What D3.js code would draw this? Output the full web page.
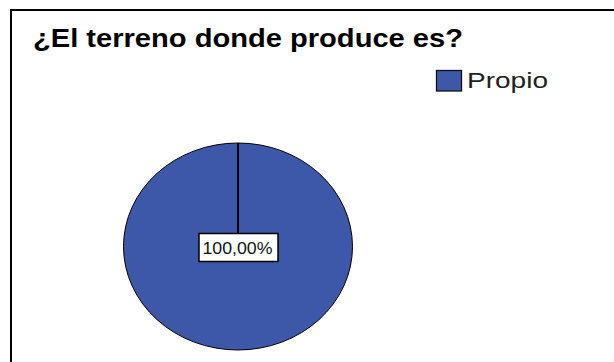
<!DOCTYPE html>
<html>
<head>
<meta charset="utf-8">
<script src="https://cdn.jsdelivr.net/npm/d3@7"></script>
<style>
  body { margin: 0; background: #fff; }
  svg { display: block; font-family: "Liberation Sans", Arial, sans-serif; }
</style>
</head>
<body>
<div id="chart"></div>
<script>
const categories = ["Propio"];
const values = [100];
const colors = ["#3d57a9"];
const title = "¿El terreno donde produce es?";

const width = 614, height = 362;
// the source picture is stretched sideways a little
const xStretch = 1.11;

const svg = d3.select("#chart").append("svg")
    .attr("width", width)
    .attr("height", height);

// outer frame (runs off right/bottom edges)
svg.append("rect")
    .attr("x", 11).attr("y", 10)
    .attr("width", 640).attr("height", 400)
    .attr("fill", "#fff")
    .attr("stroke", "#000")
    .attr("stroke-width", 2);

svg.append("text")
    .attr("transform", `translate(33,47) scale(${xStretch},1)`)
    .attr("font-size", 26)
    .attr("font-weight", "bold")
    .attr("fill", "#000")
    .attr("textLength", 430 / xStretch)
    .attr("lengthAdjust", "spacingAndGlyphs")
    .text(title);

// pie
const cx = 238, cy = 246.5, rx = 114.5, ry = 103.5;
const total = d3.sum(values);
const pie = d3.pie().sort(null).value(d => d);
const arcs = pie(values);
const arc = d3.arc().innerRadius(0).outerRadius(rx);

const g = svg.append("g")
    .attr("transform", `translate(${cx},${cy}) scale(1,${ry / rx})`);

g.selectAll("path.slice")
    .data(arcs)
    .enter()
    .append("path")
    .attr("class", "slice")
    .attr("d", arc)
    .attr("fill", (d, i) => colors[i])
    .attr("stroke", "#000")
    .attr("stroke-width", 1)
    .attr("vector-effect", "non-scaling-stroke");

// slice boundary lines
g.selectAll("line.edge")
    .data(arcs)
    .enter()
    .append("line")
    .attr("class", "edge")
    .attr("x1", 0).attr("y1", 0)
    .attr("x2", d => d3.pointRadial(d.startAngle, rx)[0])
    .attr("y2", d => d3.pointRadial(d.startAngle, rx)[1])
    .attr("stroke", "#000")
    .attr("stroke-width", 2)
    .attr("vector-effect", "non-scaling-stroke");

// labels
const fmt = v => d3.format(".2f")(v).replace(".", ",") + "%";
arcs.forEach((d, i) => {
    const lbl = svg.append("g").attr("transform", `translate(${cx + 0.5},${cy + 0.5})`);
    lbl.append("rect")
        .attr("x", -39.5).attr("y", -13.5)
        .attr("width", 79).attr("height", 28)
        .attr("fill", "#fff")
        .attr("stroke", "#000")
        .attr("stroke-width", 1.5);
    lbl.append("text")
        .attr("transform", `translate(-36,6.5) scale(${xStretch},1)`)
        .attr("font-size", 16)
        .attr("fill", "#111")
        .attr("textLength", 70 / xStretch)
        .attr("lengthAdjust", "spacingAndGlyphs")
        .text(fmt(d.data / total * 100));
});

// legend
const legend = svg.append("g").attr("transform", "translate(436,70)");
const items = legend.selectAll("g")
    .data(categories)
    .enter()
    .append("g")
    .attr("transform", (d, i) => `translate(0,${i * 26})`);
items.append("rect")
    .attr("x", 0.5).attr("y", 0.5)
    .attr("width", 25).attr("height", 20.5)
    .attr("fill", (d, i) => colors[i])
    .attr("stroke", "#111")
    .attr("stroke-width", 1.3);
items.append("text")
    .attr("transform", `translate(31,18) scale(${xStretch},1)`)
    .attr("font-size", 22.5)
    .attr("fill", "#222")
    .attr("textLength", 81 / xStretch)
    .attr("lengthAdjust", "spacingAndGlyphs")
    .text(d => d);
</script>
</body>
</html>
